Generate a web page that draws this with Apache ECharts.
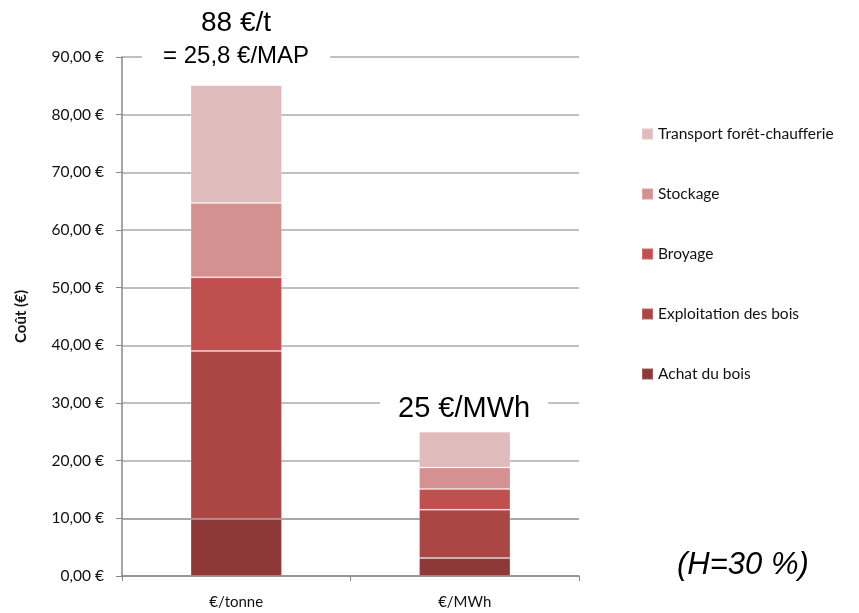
<!DOCTYPE html>
<html>
<head>
<meta charset="utf-8">
<script src="https://cdn.jsdelivr.net/npm/echarts@6/dist/echarts.min.js"></script>
<style>
  html, body { margin: 0; padding: 0; background: #fff; }
  #chart { width: 859px; height: 613px; }
</style>
</head>
<body>
<div id="chart"></div>
<script>
// Cost breakdown of forest wood chips, per tonne and per MWh
const categories = ['€/tonne', '€/MWh'];
const seriesNames = ['Achat du bois', 'Exploitation des bois', 'Broyage', 'Stockage', 'Transport forêt-chaufferie'];
const achat = [9.9, 3.1];
const exploitation = [29.1, 8.4];
const broyage = [12.8, 3.6];
const stockage = [12.9, 3.7];
const transport = [20.4, 6.2];
const seriesColors = ['#8e3938', '#aa4745', '#c0504d', '#d39190', '#e0bbbb'];
const yTicks = [0, 10, 20, 30, 40, 50, 60, 70, 80, 90];
const notes = ['88 €/t', '= 25,8 €/MAP', '25 €/MWh', '(H=30 %)'];

const values = [achat, exploitation, broyage, stockage, transport];
const labelFont = 'Lato, "Open Sans", sans-serif';
const noteFont = '"Liberation Sans", Arial, sans-serif';

// darker rule at 10 €, lighter elsewhere
const gridColors = yTicks.map(v => v === 10 ? '#8a8a8a' : '#ababab');

const chart = echarts.init(document.getElementById('chart'));
chart.setOption({
  backgroundColor: '#ffffff',
  animation: false,
  grid: { left: 122, right: 280, top: 57, bottom: 37 },
  legend: {
    orient: 'vertical',
    left: 641,
    top: 126,
    padding: 0,
    itemWidth: 11,
    itemHeight: 11,
    itemGap: 44,
    itemTextGap: 6,
    icon: 'rect',
    data: seriesNames.slice().reverse(),
    textStyle: { fontFamily: labelFont, fontSize: 15.5, color: '#111' }
  },
  xAxis: {
    type: 'category',
    data: categories,
    axisLine: { lineStyle: { color: '#888', width: 1.5 } },
    axisTick: { show: true, length: 5, lineStyle: { color: '#888' } },
    axisLabel: { fontFamily: labelFont, fontSize: 15, color: '#111', margin: 19 }
  },
  yAxis: {
    type: 'value',
    min: 0,
    max: 90,
    interval: 10,
    name: 'Coût (€)',
    nameLocation: 'middle',
    nameGap: 93,
    nameRotate: 90,
    nameTextStyle: { fontFamily: labelFont, fontSize: 15, fontWeight: 'bold', color: '#111' },
    axisLine: { show: true, lineStyle: { color: '#888', width: 1.5 } },
    axisTick: { show: true, length: 6, lineStyle: { color: '#888' } },
    axisLabel: {
      fontFamily: labelFont, fontSize: 15.5, color: '#111', margin: 18,
      formatter: v => v.toFixed(2).replace('.', ',') + ' €'
    },
    splitLine: { show: true, lineStyle: { color: gridColors, width: 1.5 } }
  },
  series: seriesNames.map((name, i) => ({
    name: name,
    type: 'bar',
    stack: 'cost',
    barWidth: '40%',
    data: values[i],
    itemStyle: {
      color: seriesColors[i],
      borderColor: 'rgba(255,255,255,0.18)',
      borderWidth: 1
    }
  })),
  graphic: [
    {
      type: 'text', left: 201, top: 9, z: 100,
      style: { text: notes[0], font: '28px ' + noteFont, fill: '#000' }
    },
    {
      type: 'text', left: 142, top: 44, z: 100,
      style: {
        text: notes[1], font: '24px ' + noteFont, fill: '#000',
        backgroundColor: '#fff', padding: [0, 21, 0, 21]
      }
    },
    {
      type: 'text', left: 380, top: 394, z: 100,
      style: {
        text: notes[2], font: '29px ' + noteFont, fill: '#000',
        backgroundColor: '#fff', padding: [0, 18, 0, 18]
      }
    },
    {
      type: 'text', left: 677, top: 550, z: 100,
      style: { text: notes[3], font: 'italic 31px ' + noteFont, fill: '#000' }
    }
  ]
});
</script>
</body>
</html>
